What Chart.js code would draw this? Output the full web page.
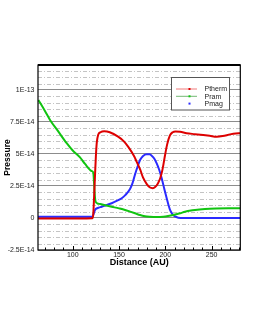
<!DOCTYPE html>
<html>
<head>
<meta charset="utf-8">
<script src="https://cdn.jsdelivr.net/npm/chart.js@4"></script>
<style>
  body { margin: 0; background: #fff; }
  canvas { display: block; }
</style>
</head>
<body>
<canvas id="chart" width="255" height="330"></canvas>
<script>
/* ======================
   DATA (pressure in units of 1E-14)
====================== */
const UNIT = 1e-14;

const pthermX = [62.5, 80, 100, 115, 121.2, 122.2, 123, 124, 125, 126, 127.5, 130, 134, 140, 149, 155, 160, 166.5, 169, 173, 176, 180, 183.5, 186.5, 189, 192, 194.5, 197, 199.7, 202, 205, 208, 211, 216, 223, 232, 241, 248, 255.5, 262, 270, 276, 281];
const pthermY = [-0.03, -0.03, -0.03, -0.03, -0.02, 0.3, 1.5, 3.2, 4.8, 5.9, 6.5, 6.7, 6.78, 6.7, 6.35, 6.0, 5.55, 4.8, 4.4, 3.75, 3.15, 2.65, 2.38, 2.33, 2.42, 2.7, 3.1, 3.8, 4.9, 5.75, 6.45, 6.7, 6.76, 6.74, 6.62, 6.55, 6.48, 6.42, 6.35, 6.4, 6.53, 6.6, 6.62];

const pramX = [62.9, 70, 75.5, 84, 93.5, 100, 107.9, 113.3, 120.5, 122.2, 123, 123.6, 124.2, 124.8, 126.5, 129.5, 135, 142.1, 150, 156.5, 162, 167.3, 172.7, 178, 183.5, 190, 197.8, 203, 208.6, 215.9, 221.3, 226, 232.1, 242.9, 255, 268, 281];
const pramY = [9.22, 8.36, 7.66, 6.8, 5.84, 5.27, 4.73, 4.22, 3.67, 3.55, 2.8, 2.0, 1.5, 1.27, 1.15, 1.09, 1.0, 0.88, 0.75, 0.63, 0.5, 0.37, 0.23, 0.14, 0.1, 0.08, 0.1, 0.15, 0.23, 0.37, 0.49, 0.56, 0.63, 0.7, 0.74, 0.76, 0.76];

const pmagX = [62.5, 121.2, 122.5, 124.1, 127, 131.3, 136, 142.1, 148, 152.9, 157, 161.9, 164.5, 167.3, 170, 172.7, 176, 179.9, 183, 185.3, 188, 190.7, 193.5, 196.1, 199, 201.5, 203.5, 205.1, 207, 208.6, 211, 214, 220, 281];
const pmagY = [0.1, 0.1, 0.3, 0.63, 0.78, 0.88, 1.0, 1.15, 1.35, 1.54, 1.8, 2.27, 2.7, 3.4, 4.0, 4.53, 4.85, 4.98, 4.97, 4.87, 4.65, 4.27, 3.75, 3.1, 2.25, 1.54, 1.0, 0.63, 0.38, 0.23, 0.1, 0.02, 0, 0];

const seriesLabels = ["Ptherm", "Pram", "Pmag"];

const xTicks = [100, 150, 200, 250];
const yTicks = [-2.5e-14, 0, 2.5e-14, 5e-14, 7.5e-14, 1e-13];
const yTickLabels = ["-2.5E-14", "0", "2.5E-14", "5E-14", "7.5E-14", "1E-13"];

/* ======================
   STYLE
====================== */
const FONT = "'Liberation Sans', Arial, sans-serif";
const lineColors = ["#dd0000", "#11c411", "#2b2bff"];
const legendLineColors = ["#f07a7a", "#74b874", null];

function toPoints(xs, ys) {
  return xs.map((x, i) => ({ x, y: ys[i] * UNIT }));
}

/* ======================
   PLUGINS
====================== */
const minorGrid = {
  id: "minorGrid",
  beforeDatasetsDraw(chart) {
    const { ctx, chartArea: a, scales: { y } } = chart;
    ctx.save();
    ctx.strokeStyle = "#c4c4c4";
    ctx.lineWidth = 1;
    ctx.setLineDash([4, 2, 1, 2]);
    for (let k = -25; k <= 115; k += 5) {
      if (k % 25 === 0) continue;
      const py = Math.round(y.getPixelForValue(k * 1e-15)) + 0.5;
      if (py <= a.top + 1) continue;
      ctx.beginPath();
      ctx.moveTo(a.left, py);
      ctx.lineTo(a.right, py);
      ctx.stroke();
    }
    ctx.restore();
  }
};

const frame = {
  id: "frame",
  afterDatasetsDraw(chart) {
    const { ctx, chartArea: a, scales: { x } } = chart;
    ctx.save();
    // inward ticks on the bottom axis
    ctx.strokeStyle = "#000";
    ctx.lineWidth = 1;
    for (let v = 70; v <= 280; v += 10) {
      const px = Math.round(x.getPixelForValue(v)) + 0.5;
      const len = v % 50 === 0 ? 4 : 2.5;
      ctx.beginPath();
      ctx.moveTo(px, a.bottom);
      ctx.lineTo(px, a.bottom - len);
      ctx.stroke();
    }
    // box
    ctx.lineWidth = 1.2;
    ctx.strokeRect(a.left, a.top, a.right - a.left, a.bottom - a.top);
    ctx.lineWidth = 2;
    ctx.beginPath();
    ctx.moveTo(a.left, a.top);
    ctx.lineTo(a.right, a.top);
    ctx.stroke();
    ctx.restore();
  }
};

const boxLegend = {
  id: "boxLegend",
  afterDraw(chart) {
    const ctx = chart.ctx;
    const left = 171.5, top = 77.5, w = 58, h = 32.5;
    ctx.save();
    ctx.fillStyle = "#fff";
    ctx.fillRect(left, top, w, h);
    ctx.strokeStyle = "#555";
    ctx.lineWidth = 1;
    ctx.strokeRect(left, top, w, h);
    ctx.font = "7px " + FONT;
    ctx.textBaseline = "middle";
    chart.data.datasets.forEach((ds, i) => {
      const yy = 89 + i * 7.3;
      if (legendLineColors[i]) {
        ctx.strokeStyle = legendLineColors[i];
        ctx.lineWidth = 1;
        ctx.beginPath();
        ctx.moveTo(176, yy);
        ctx.lineTo(197, yy);
        ctx.stroke();
      }
      ctx.fillStyle = ds.borderColor;
      ctx.fillRect(188.5, yy - 1, 2, 2);
      ctx.fillStyle = "#222";
      ctx.fillText(ds.label, 204.5, yy + 0.5);
    });
    ctx.restore();
  }
};

/* ======================
   CHART
====================== */
const datasets = [
  toPoints(pthermX, pthermY),
  toPoints(pramX, pramY),
  toPoints(pmagX, pmagY)
].map((pts, i) => ({
  label: seriesLabels[i],
  data: pts,
  borderColor: lineColors[i],
  backgroundColor: lineColors[i],
  borderWidth: 2,
  pointRadius: 0,
  cubicInterpolationMode: "monotone",
  fill: false
}));

new Chart(document.getElementById("chart"), {
  type: "line",
  data: { datasets },
  options: {
    responsive: false,
    animation: false,
    layout: { padding: { top: 65, right: 14.7, left: 0, bottom: 0 } },
    plugins: {
      legend: { display: false },
      tooltip: { enabled: false }
    },
    scales: {
      x: {
        type: "linear",
        min: 62.5,
        max: 281,
        afterBuildTicks: s => { s.ticks = xTicks.map(v => ({ value: v })); },
        afterFit: s => { s.height = 80; },
        grid: { drawOnChartArea: false, drawTicks: false },
        border: { display: false },
        ticks: { font: { size: 7, family: FONT }, color: "#222", padding: 1, maxRotation: 0 },
        title: {
          display: true,
          text: "Distance (AU)",
          font: { size: 9, weight: "bold", family: FONT },
          color: "#000",
          padding: { top: 0, bottom: 62 }
        }
      },
      y: {
        type: "linear",
        min: -2.5e-14,
        max: 11.95e-14,
        afterBuildTicks: s => { s.ticks = yTicks.map(v => ({ value: v })); },
        afterFit: s => { s.width = 38; },
        grid: { color: "#8c8c8c", lineWidth: 1, drawTicks: false },
        border: { display: false },
        ticks: {
          font: { size: 7, family: FONT },
          color: "#222",
          padding: 3.5,
          callback: (v, i) => yTickLabels[i]
        },
        title: {
          display: true,
          text: "Pressure",
          font: { size: 8.5, weight: "bold", family: FONT },
          color: "#000",
          padding: { top: 3, bottom: 0 }
        }
      }
    }
  },
  plugins: [minorGrid, frame, boxLegend]
});
</script>
</body>
</html>
